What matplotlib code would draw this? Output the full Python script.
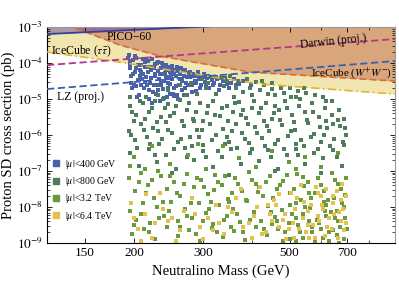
"""Neutralino mass vs proton SD cross section with exclusion limits."""

import matplotlib
matplotlib.use("Agg")
import matplotlib.pyplot as plt
import numpy as np
from matplotlib.lines import Line2D

plt.rcParams["font.family"] = ["Liberation Serif", "DejaVu Serif"]
plt.rcParams["mathtext.fontset"] = "stix"

# limit curves: (mass GeV, log10 sigma pb)
icecube_tau = [(120, -3.694), (184, -3.972), (295, -4.333), (420, -4.583), (930, -4.861)]
icecube_ww = [(128, -2.85), (184, -3.5), (233, -3.806), (396, -4.25), (930, -4.5)]
pico60 = [(120, -3.194), (283, -3.0), (500, -2.872)]
darwin = [(120, -4.056), (930, -3.333)]
lz = [(120, -4.722), (930, -3.944)]

# scan points: (mass GeV, log10 sigma pb)
mu400 = [
    (194, -3.78), (196, -4.02), (197, -4.35), (199, -3.92), (200, -4.6), (202, -4.15), (203, -3.85),
    (205, -4.48), (206, -4.9), (208, -4.05), (209, -4.25), (211, -3.88), (212, -4.7), (214, -4.12),
    (215, -4.38), (217, -3.95), (218, -5.0), (220, -4.55), (221, -4.2), (223, -3.9), (224, -4.8),
    (226, -4.3), (227, -4.02), (229, -4.62), (230, -3.98), (232, -4.45), (233, -5.05), (235, -4.15),
    (236, -4.0), (238, -4.72), (240, -4.28), (241, -4.05), (243, -4.95), (245, -4.4), (246, -4.12),
    (248, -4.58), (250, -4.08), (252, -4.85), (253, -4.3), (255, -4.18), (257, -4.65), (259, -4.22),
    (260, -5.0), (262, -4.45), (264, -4.15), (266, -4.75), (268, -4.35), (270, -4.2), (272, -4.55),
    (274, -4.9), (276, -4.28), (278, -4.4), (281, -4.62), (283, -4.3), (286, -4.5), (288, -4.78),
    (291, -4.35), (294, -4.45), (297, -4.6), (300, -4.38), (304, -4.52), (308, -4.42), (312, -4.7),
    (316, -4.48), (321, -4.55), (326, -4.45), (332, -4.62), (338, -4.5), (345, -4.58), (355, -4.55),
    (365, -4.62), (380, -4.5), (398, -4.6), (198, -4.7), (204, -4.95), (210, -4.45), (216, -4.6),
    (222, -5.1), (228, -4.85), (234, -4.55), (239, -4.98), (244, -4.7), (249, -4.35), (254, -4.92),
    (258, -4.9), (263, -4.6), (269, -4.88), (196, -3.95), (201, -4.25), (207, -4.35), (213, -3.98),
    (219, -4.1), (225, -4.15), (231, -4.22), (237, -4.3), (242, -4.2), (247, -4.25),
    (193, -3.85), (195, -4.15), (197, -4.55), (199, -4.3), (201, -3.8), (203, -4.65), (205, -4.05),
    (207, -4.2), (209, -4.6), (211, -4.3), (213, -4.52), (215, -3.9), (217, -4.25), (219, -4.75),
    (221, -4.42), (223, -4.1), (225, -4.6), (227, -4.35), (229, -4.0), (231, -4.75), (233, -4.3),
    (235, -4.6), (237, -4.1), (239, -4.5), (241, -4.4), (243, -4.15), (245, -4.55), (247, -4.85),
    (249, -4.2), (251, -4.45), (253, -4.7), (256, -4.35), (258, -4.1), (261, -4.6), (263, -4.3),
    (265, -4.5), (267, -4.2), (270, -4.7), (273, -4.4), (275, -4.6), (279, -4.25), (282, -4.8),
    (285, -4.35), (289, -4.55), (292, -4.25), (296, -4.7), (302, -4.3), (306, -4.6), (310, -4.35),
    (318, -4.6), (324, -4.38), (330, -4.75), (342, -4.42), (350, -4.7), (360, -4.45), (372, -4.58),
    (390, -4.45),
]
mu800 = [
    (245, -4.75), (262, -4.62), (280, -4.55), (298, -4.45), (315, -4.38), (333, -4.42), (352, -4.35),
    (370, -4.5), (390, -4.45), (410, -4.52), (430, -4.6), (452, -4.55), (475, -4.68), (500, -4.7),
    (525, -4.78), (552, -4.82), (580, -4.9), (305, -4.7), (340, -4.65), (380, -4.8), (420, -4.75),
    (460, -4.9), (505, -4.95), (215, -4.95), (230, -4.88), (272, -4.9), (290, -4.85), (360, -4.95),
    (395, -4.68), (440, -4.85), (310, -4.55), (325, -4.85), (345, -4.5), (365, -4.7), (400, -4.9),
    (425, -4.5), (450, -4.72), (485, -4.82), (520, -4.95), (545, -4.7), (610, -4.95), (640, -5.05),
    (196, -5.2), (203, -5.45), (211, -5.1), (219, -5.35), (226, -5.05), (235, -5.5), (244, -5.15),
    (253, -5.4), (263, -5.02), (273, -5.3), (284, -5.55), (295, -5.12), (307, -5.38), (319, -5.05),
    (332, -5.48), (345, -5.2), (358, -5.35), (372, -5.08), (387, -5.52), (402, -5.25), (418, -5.4),
    (435, -5.1), (452, -5.55), (470, -5.3), (488, -5.05), (508, -5.45), (528, -5.2), (549, -5.35),
    (571, -5.1), (594, -5.5), (617, -5.25), (641, -5.45), (666, -5.58), (688, -5.55), (200, -5.6),
    (240, -5.25), (300, -5.6), (380, -5.3), (460, -5.2),
    (195, -4.95), (198, -5.35), (207, -5.05), (214, -5.55), (222, -5.25), (229, -5.65), (237, -5.0),
    (247, -5.48), (256, -5.2), (266, -5.6), (276, -5.1), (288, -5.35), (298, -5.85), (310, -5.2),
    (322, -5.45), (336, -5.25), (349, -5.62), (362, -5.1), (376, -5.45), (392, -5.7), (406, -5.05),
    (422, -5.25), (438, -5.75), (456, -5.38), (474, -5.58), (492, -5.25), (512, -5.65), (532, -5.0),
    (553, -5.58), (575, -5.35), (598, -5.78), (621, -5.05), (645, -5.7), (670, -5.3), (693, -5.8),
    (194, -5.9), (201, -6.15), (208, -5.7), (216, -6.05), (224, -5.8), (232, -6.25), (241, -5.65),
    (250, -5.95), (259, -6.2), (269, -5.75), (279, -6.05), (290, -5.85), (301, -6.28), (313, -5.7),
    (325, -6.0), (338, -5.82), (351, -6.18), (365, -5.68), (379, -5.95), (394, -6.22), (409, -5.78),
    (425, -6.08), (442, -5.88), (459, -6.25), (477, -5.72), (496, -6.02), (515, -5.85), (535, -6.15),
    (556, -5.66), (578, -5.98), (600, -6.2), (624, -5.8), (648, -6.1), (673, -5.75), (695, -6.0),
    (230, -5.9), (285, -5.62), (345, -6.05), (430, -5.62), (520, -6.25), (620, -5.62), (690, -6.28),
    (197, -6.0), (204, -6.35), (212, -5.85), (220, -6.25), (227, -6.55), (236, -6.1), (245, -5.85),
    (254, -6.4), (264, -6.1), (274, -6.6), (282, -6.3), (294, -6.05), (306, -6.6), (316, -6.15),
    (329, -6.45), (342, -6.25), (356, -5.9), (368, -6.35), (384, -6.1), (400, -6.4), (414, -5.95),
    (432, -6.3), (448, -6.6), (466, -6.15), (484, -6.4), (504, -5.9), (526, -6.55), (545, -6.3),
    (566, -6.05), (590, -6.4), (612, -6.0), (636, -6.3), (660, -6.6), (684, -6.2),
    (196, -6.5), (206, -6.85), (218, -6.4), (229, -6.75), (242, -6.55), (256, -6.95), (270, -6.35),
    (285, -6.7), (301, -6.45), (318, -6.9), (336, -6.6), (355, -6.38), (375, -6.8), (396, -6.5),
    (418, -6.72), (441, -6.42), (466, -6.95), (492, -6.55), (519, -6.38), (548, -6.8), (578, -6.5),
    (610, -6.65), (644, -6.42), (680, -6.85), (250, -7.05), (350, -7.1), (460, -7.0), (600, -7.05),
]
mu3200 = [
    (200, -6.6), (223, -6.3), (247, -6.8), (275, -6.55), (305, -6.95), (338, -6.3), (372, -6.65),
    (410, -6.9), (452, -6.45), (498, -6.75), (548, -6.6), (603, -6.9), (664, -6.5), (213, -6.95),
    (292, -6.25), (520, -6.95),
    (194, -7.2), (201, -7.55), (209, -7.05), (217, -7.4), (225, -7.75), (234, -7.15), (243, -7.5),
    (253, -7.3), (263, -7.7), (274, -7.08), (285, -7.45), (297, -7.25), (309, -7.65), (322, -7.1),
    (335, -7.4), (349, -7.78), (363, -7.2), (378, -7.55), (394, -7.02), (410, -7.35), (427, -7.7),
    (445, -7.15), (463, -7.5), (482, -7.28), (502, -7.62), (523, -7.08), (545, -7.42), (567, -7.75),
    (590, -7.2), (614, -7.55), (640, -7.05), (666, -7.35), (692, -7.68), (230, -7.0), (320, -7.52),
    (415, -7.58), (540, -7.18), (650, -7.75),
    (196, -6.85), (206, -7.3), (215, -7.6), (222, -7.25), (238, -7.85), (248, -7.15), (258, -7.6),
    (268, -7.35), (280, -7.9), (290, -7.2), (302, -7.45), (314, -7.85), (328, -7.3), (342, -7.15),
    (356, -7.6), (370, -7.35), (386, -7.8), (402, -7.25), (418, -7.45), (436, -7.3), (454, -7.75),
    (472, -7.4), (492, -7.1), (512, -7.5), (534, -7.8), (556, -7.3), (580, -7.6), (602, -7.4),
    (626, -7.8), (652, -7.25), (676, -7.5), (698, -7.2), (560, -7.6), (620, -7.95),
    (195, -8.1), (203, -8.35), (211, -7.9), (220, -8.45), (229, -8.0), (239, -8.25), (249, -7.85),
    (259, -8.4), (270, -8.05), (281, -8.3), (293, -7.88), (305, -8.18), (318, -8.48), (331, -7.95),
    (345, -8.25), (359, -8.05), (374, -8.42), (390, -7.82), (406, -8.15), (423, -8.38), (441, -7.98),
    (459, -8.28), (478, -8.08), (498, -8.45), (519, -7.9), (541, -8.2), (563, -8.02), (587, -8.35),
    (611, -7.85), (637, -8.15), (663, -8.4), (690, -8.0), (500, -7.95), (560, -8.4), (620, -8.25),
    (680, -7.9), (450, -8.48), (350, -7.85), (660, -8.1), (520, -8.3),
    (200, -8.5), (208, -8.2), (218, -8.7), (232, -8.3), (246, -8.1), (262, -8.55), (274, -8.25),
    (288, -8.75), (300, -8.4), (312, -8.05), (326, -8.7), (340, -8.35), (354, -8.55), (368, -8.2),
    (380, -8.7), (396, -8.35), (412, -8.0), (430, -8.6), (448, -8.15), (464, -8.4), (486, -8.7),
    (506, -8.2), (526, -8.5), (548, -8.0), (572, -8.7), (595, -8.45), (616, -8.1), (632, -8.7),
    (654, -8.3), (672, -8.55), (694, -8.3),
    (198, -8.75), (212, -8.6), (227, -8.9), (243, -8.55), (259, -8.8), (277, -8.65), (296, -8.95),
    (316, -8.58), (337, -8.82), (360, -8.68), (385, -8.92), (411, -8.55), (439, -8.78), (468, -8.62),
    (500, -8.88), (533, -8.7), (569, -8.55), (607, -8.85), (647, -8.65), (690, -8.9), (520, -8.95),
    (600, -8.6), (660, -8.78), (480, -8.95), (540, -8.85), (580, -8.95), (630, -8.95), (670, -9.0),
    (700, -8.6),
]
mu6400 = [
    (197, -7.9), (205, -8.6), (214, -8.2), (223, -8.85), (233, -7.6), (244, -8.4), (256, -8.95),
    (268, -8.1), (281, -7.75), (295, -8.55), (309, -8.3), (324, -7.95), (340, -8.75), (357, -8.15),
    (375, -7.5), (394, -8.45), (414, -8.0), (435, -8.7), (457, -7.8), (480, -8.35), (505, -7.6),
    (530, -8.6), (557, -8.1), (585, -7.45), (615, -8.8), (646, -7.9), (678, -8.4), (698, -7.7),
    (420, -7.45), (445, -8.2), (470, -7.65), (490, -8.9), (515, -8.05), (545, -7.85), (575, -8.5),
    (600, -7.7), (630, -8.3), (660, -7.55), (690, -8.65), (510, -8.45), (560, -8.85), (610, -8.05),
    (640, -8.6), (670, -8.15), (470, -8.55), (400, -8.85), (365, -7.75), (300, -8.9), (250, -8.3),
    (215, -7.65), (330, -8.45), (440, -7.95), (590, -8.25), (680, -7.35), (535, -7.4), (620, -7.5),
    (200, -8.3), (209, -8.95), (226, -8.45), (238, -8.05), (262, -8.65), (286, -8.2), (318, -8.65),
    (348, -8.0), (380, -8.55), (406, -8.25), (426, -8.75), (452, -8.4), (462, -7.95), (488, -8.2),
    (498, -8.6), (522, -7.75), (540, -8.3), (552, -8.7), (568, -7.95), (582, -8.85), (596, -8.4),
    (606, -7.95), (625, -8.55), (650, -8.2), (665, -8.85), (685, -8.05), (696, -8.45), (512, -8.85),
    (556, -8.5), (590, -7.6), (645, -7.7), (675, -7.8),
]

series = [
    (mu400, "#4a63a6", r"$|\mu|$<400 GeV"),
    (mu800, "#4d7d5c", r"$|\mu|$<800 GeV"),
    (mu3200, "#6b9a3c", r"$|\mu|$<3.2 TeV"),
    (mu6400, "#e2c24c", r"$|\mu|$<6.4 TeV"),
]


def curve(points, grid):
    m = np.array([p[0] for p in points], dtype=float)
    s = np.array([p[1] for p in points], dtype=float)
    return 10 ** np.interp(np.log10(grid), np.log10(m), s)


fig = plt.figure(figsize=(3.99, 2.91), dpi=100)
ax = fig.add_axes([0.118, 0.165, 0.872, 0.742])
ax.set_xscale("log")
ax.set_yscale("log")

grid = np.geomspace(120, 930, 200)
top = np.full_like(grid, 1e-2)
ax.fill_between(grid, curve(icecube_tau, grid), top, color="#f2e6b0", lw=0, zorder=1)
ax.fill_between(grid, curve(icecube_ww, grid), top, color="#d9a67c", lw=0, zorder=1.1)
ax.fill_between(grid, curve(pico60, grid), top, color="#4a2c9c", alpha=0.42, lw=0, zorder=1.2)

for pts, color, label in series:
    ax.scatter([p[0] for p in pts], [10 ** p[1] for p in pts], s=6, marker="s",
               color=color, lw=0, zorder=2)

ax.plot(grid, curve(icecube_tau, grid), color="#e0b632", lw=1.2, ls=(0, (5, 2, 1, 2)), zorder=3)
ax.plot(grid, curve(icecube_ww, grid), color="#d86c38", lw=1.2, ls=(0, (4, 2)), zorder=3)
ax.plot(grid, curve(pico60, grid), color="#3440a0", lw=1.3, zorder=3)
ax.plot(grid, curve(darwin, grid), color="#b2398a", lw=1.3, ls=(0, (4, 2)), zorder=3)
ax.plot(grid, curve(lz, grid), color="#3a5fb2", lw=1.3, ls=(0, (4, 2)), zorder=3)

ax.text(195, 10 ** -3.28, "PICO\u221260", fontsize=8.5, ha="center", va="center", zorder=4)
ax.text(147, 10 ** -3.67, r"IceCube ($\tau\bar{\tau}$)", fontsize=8.5, ha="center", va="center", zorder=4)
ax.text(146, 10 ** -4.94, "LZ (proj.)", fontsize=8.5, ha="center", va="center", zorder=4)
ax.text(646, 10 ** -3.39, "Darwin (proj.)", fontsize=8.3, ha="center", va="center", rotation=6, zorder=4)
ax.text(722, 10 ** -4.29, r"IceCube ($W^{+}W^{-}$)", fontsize=8, ha="center", va="center", zorder=4)

ax.set_xlim(120, 930)
ax.set_ylim(1e-9, 1e-3)
ax.set_xticks([150, 200, 300, 500, 700])
ax.set_xticklabels(["150", "200", "300", "500", "700"])
ax.set_xticks([400, 600, 800], minor=True)
ax.set_xticklabels([], minor=True)
ax.set_yticks([10.0 ** k for k in range(-9, -2)])
ax.set_yticklabels([r"$10^{%d}$" % k for k in range(-9, -2)])
ax.tick_params(which="both", direction="in", top=True, right=True, labelsize=9.5, pad=3)
ax.tick_params(which="major", length=3.5, width=0.6)
ax.tick_params(which="minor", length=2, width=0.5)
for side in ("top", "right"):
    ax.spines[side].set_color("#9a9a9a")
for side in ("left", "bottom"):
    ax.spines[side].set_linewidth(0.8)

ax.set_xlabel("Neutralino Mass (GeV)", fontsize=10.5, labelpad=4)
ax.set_ylabel("Proton SD cross section (pb)", fontsize=10.5, labelpad=1)

handles = [Line2D([], [], ls="", marker="s", markersize=5, color=c) for _, c, _ in series]
ax.legend(handles, [lab for _, _, lab in series], loc="upper left", bbox_to_anchor=(0.015, 0.395),
          frameon=False, fontsize=7, handlelength=0.8, handletextpad=0.5,
          labelspacing=0.45, borderpad=0, borderaxespad=0)

fig.savefig("out.png", dpi=100)
